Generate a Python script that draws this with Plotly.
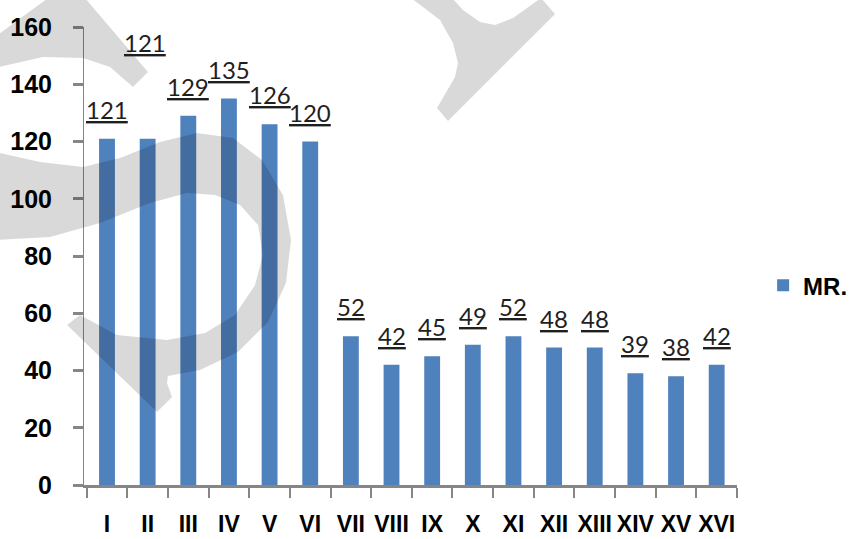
import plotly.graph_objects as go

categories = ["I", "II", "III", "IV", "V", "VI", "VII", "VIII", "IX", "X",
              "XI", "XII", "XIII", "XIV", "XV", "XVI"]
values = [121, 121, 129, 135, 126, 120, 52, 42, 45, 49, 52, 48, 48, 39, 38, 42]
series_name = "MR."
# extra vertical offset (px) of a few manually moved data labels
label_lift = [0, 67, 0, 0, 0, 0, 0, 0, 0, 0, 0, 0, 0, 0, 0, 0]
label_dx = [0, -3, 0, 0, 0, 0, 0, 0, 0, 0, 0, 0, 0, 0, 0, 0]

BLUE = "#4F81BD"
GRAY = "#868686"

fig = go.Figure()
fig.add_trace(go.Bar(
    x=categories, y=values, name=series_name,
    marker=dict(color=BLUE, line=dict(width=0)),
    width=0.39,
))

for c, v, lift, dx in zip(categories, values, label_lift, label_dx):
    fig.add_annotation(
        x=c, y=v, xref="x", yref="y",
        text=f"<u>{v}</u>", showarrow=False,
        yanchor="bottom", xanchor="center",
        yshift=13 + lift, xshift=dx,
        font=dict(family="Lato", size=24, color="#1f1f1f"),
    )

# --- faint watermark drawn over the chart (decoration) ---
L, R, B, T = 84, 737, 485, 27


def P(x, y):
    return f"{(x - L) / (R - L):.4f},{(B - y) / (B - T):.4f}"


def poly(pts):
    return "M" + " L".join(P(x, y) for x, y in pts) + " Z"


wm_band = [(-5, 152), (40, 162), (83, 167), (120, 158), (160, 142), (197, 133),
           (233, 138), (262, 160), (283, 195), (291, 240), (286, 283), (268, 322),
           (238, 352), (200, 370), (168, 376), (167, 383), (172, 397), (157, 412),
           (67, 325), (80, 315), (117, 335), (167, 340), (205, 333), (235, 315),
           (255, 285), (263, 255), (258, 225), (240, 205), (215, 195), (187, 193),
           (150, 203), (100, 223), (50, 237), (-5, 240)]
wm_left = [(-5, 37), (48, -2), (85, -2), (148, 72), (133, 87), (110, 67),
           (83, 58), (43, 57), (-5, 68)]
wm_right = [(411, -2), (440, 20), (453, 43), (458, 63), (455, 77), (437, 108),
            (448, 121), (555, 14), (541, -2), (513, 18), (495, 25), (480, 22),
            (463, 10), (452, -2)]
for pts in (wm_band, wm_left, wm_right):
    fig.add_shape(type="path", path=poly(pts), xref="paper", yref="paper",
                  fillcolor="black", opacity=0.15, line=dict(width=0),
                  layer="above")

fig.update_layout(
    width=850, height=539,
    margin=dict(l=L, r=850 - R, t=T, b=539 - B, autoexpand=False),
    plot_bgcolor="white", paper_bgcolor="white",
    showlegend=True,
    legend=dict(x=1.04, y=0.435, xanchor="left", yanchor="middle",
                font=dict(family="Liberation Sans", size=24, color="black",
                          weight="bold"),
                bgcolor="rgba(0,0,0,0)"),
    bargap=0.6,
)
fig.update_xaxes(
    automargin=False, tickangle=0,
    showline=True, linecolor=GRAY, linewidth=3,
    ticks="outside", tickson="boundaries", ticklen=10, tickwidth=2,
    tickcolor=GRAY, showgrid=False, zeroline=False,
    tickfont=dict(family="Liberation Sans", size=23, color="black", weight="bold"),
    ticklabelstandoff=16,
)
fig.update_yaxes(
    automargin=False,
    range=[0, 160], dtick=20,
    showline=True, linecolor=GRAY, linewidth=1,
    ticks="outside", ticklen=10, tickwidth=3, tickcolor=GRAY,
    showgrid=False, zeroline=False,
    tickfont=dict(family="Liberation Sans", size=25, color="black", weight="bold"),
    ticklabelstandoff=16,
)

fig.write_html(
    "out.html",
    config={"displayModeBar": False},
    post_script="document.body.style.margin='0';document.body.style.overflow='hidden';",
)
